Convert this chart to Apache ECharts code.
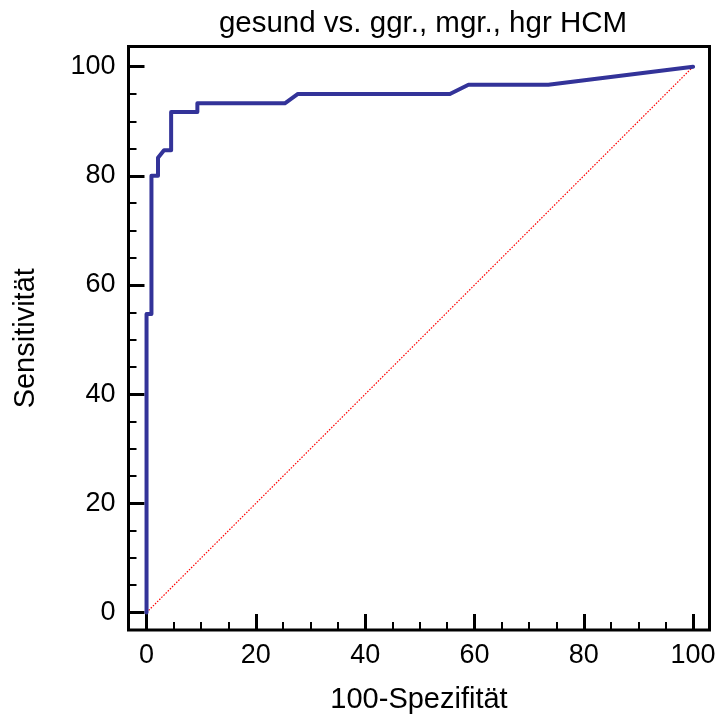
<!DOCTYPE html>
<html>
<head>
<meta charset="utf-8">
<script src="https://cdn.jsdelivr.net/npm/echarts@6/dist/echarts.min.js"></script>
<style>
html,body{margin:0;padding:0;background:#fff;}
#chart{width:723px;height:719px;}
</style>
</head>
<body>
<div id="chart"></div>
<script>
// ROC curve points: [100-Spezifität, Sensitivität]
var rocX = [0, 0, 0.9, 0.9, 2.1, 2.1, 3.2, 4.5, 4.5, 9.3, 9.3, 25.3, 27.7, 55.5, 58.9, 73.5, 100];
var rocY = [0, 54.7, 54.7, 80, 80, 83.3, 84.7, 84.7, 91.7, 91.7, 93.3, 93.3, 95, 95, 96.7, 96.7, 100];
var diagX = [0, 100];
var diagY = [0, 100];
var majorTicks = [0, 20, 40, 60, 80, 100];
var minorTicks = [0, 5, 10, 15, 20, 25, 30, 35, 40, 45, 50, 55, 60, 65, 70, 75, 80, 85, 90, 95, 100];
var titleText = 'gesund vs. ggr., mgr., hgr HCM';
var xName = '100-Spezifität';
var yName = 'Sensitivität';

function pairs(xs, ys) { return xs.map(function (x, i) { return [x, ys[i]]; }); }

var FONT = 'Liberation Sans, Arial, sans-serif';
var chart = echarts.init(document.getElementById('chart'));

function majorAxis(isX) {
  return {
    type: 'value',
    min: isX ? -3.3 : -3.2,
    max: isX ? 103 : 103.7,
    position: isX ? 'bottom' : 'left',
    name: isX ? xName : yName,
    nameLocation: 'middle',
    nameGap: isX ? 55 : 88,
    nameTextStyle: { color: '#000', fontSize: 29, fontFamily: FONT },
    axisLine: { show: false, onZero: false },
    splitLine: { show: false },
    axisTick: { show: true, inside: true, length: 16, customValues: majorTicks, lineStyle: { color: '#000', width: 3 } },
    axisLabel: { show: true, customValues: majorTicks, margin: isX ? 12 : 13, color: '#000', fontSize: 27, fontFamily: FONT }
  };
}
function minorAxis(isX) {
  return {
    type: 'value',
    min: isX ? -3.3 : -3.2,
    max: isX ? 103 : 103.7,
    position: isX ? 'bottom' : 'left',
    axisLine: { show: false, onZero: false },
    splitLine: { show: false },
    axisTick: { show: true, inside: true, length: 8, customValues: minorTicks, lineStyle: { color: '#000', width: 2 } },
    axisLabel: { show: false }
  };
}

chart.setOption({
  animation: false,
  backgroundColor: '#fff',
  title: {
    text: titleText,
    left: 418, textAlign: 'center', top: 4,
    textStyle: { color: '#000', fontSize: 29.5, fontWeight: 'normal', fontFamily: FONT }
  },
  grid: {
    left: 128.5, top: 46.5, right: 13.5, bottom: 86.5,
    show: true, borderColor: '#000', borderWidth: 3, backgroundColor: 'transparent'
  },
  xAxis: [majorAxis(true), minorAxis(true)],
  yAxis: [majorAxis(false), minorAxis(false)],
  series: [
    {
      type: 'line', data: pairs(diagX, diagY), showSymbol: false, silent: true,
      lineStyle: { color: '#ff0000', width: 1.2, type: [1.5, 1.5] }, z: 2
    },
    {
      type: 'line', data: pairs(rocX, rocY), showSymbol: false, silent: true,
      lineStyle: { color: '#333399', width: 4, cap: 'round', join: 'round' }, z: 3
    }
  ]
});
</script>
</body>
</html>
